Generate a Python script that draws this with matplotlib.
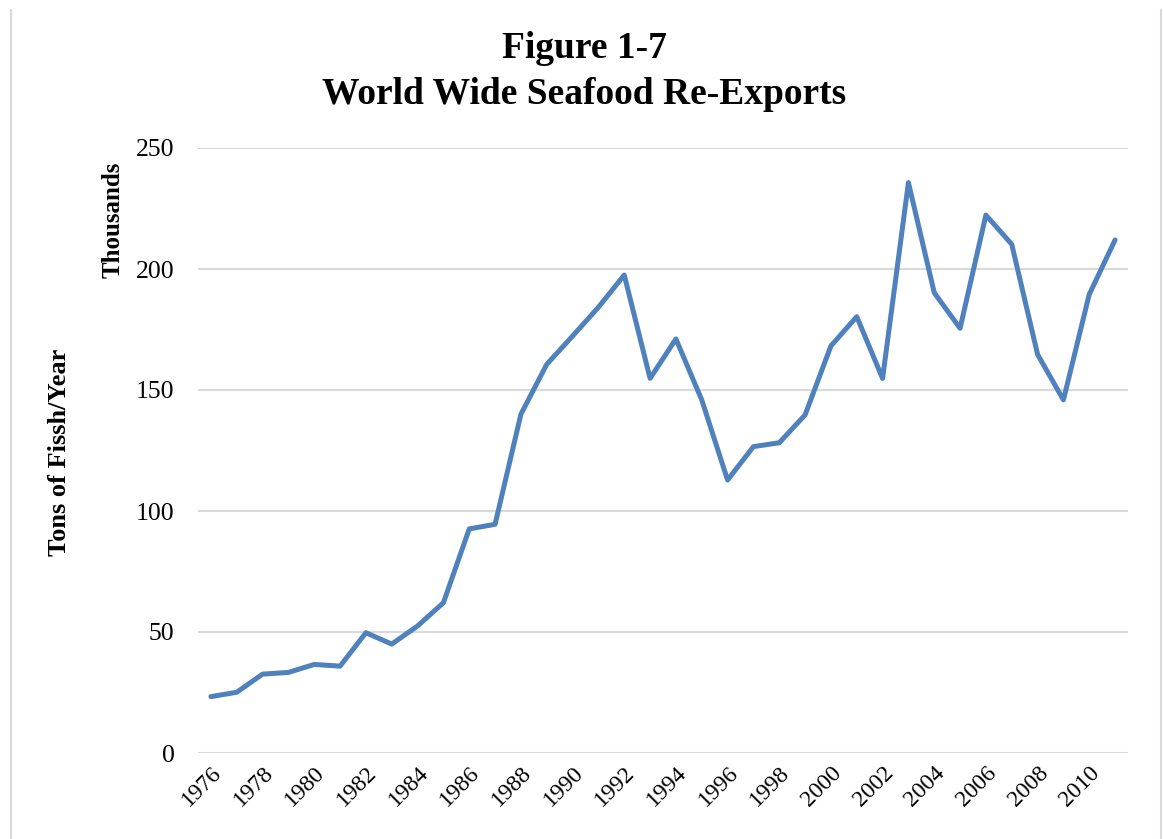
import matplotlib
matplotlib.use("Agg")
import matplotlib.pyplot as plt
from matplotlib.lines import Line2D

years = list(range(1976, 2012))
values = [23.3, 25.1, 32.6, 33.3, 36.6, 35.9, 49.7, 45.0, 52.5, 62.1,
          92.6, 94.5, 140.0, 160.6, 172.3, 184.2, 197.5, 154.8, 171.1, 145.9,
          112.8, 126.6, 128.2, 139.7, 168.2, 180.3, 154.8, 235.7, 190.2, 175.5,
          222.3, 210.2, 164.7, 145.9, 189.5, 212.0]
xtick_labels = [str(y) for y in range(1976, 2011, 2)]
yticks = [0, 50, 100, 150, 200, 250]

title_lines = ["Figure 1-7", "World Wide Seafood Re-Exports"]
ylabel = "Tons of Fissh/Year"
unit_label = "Thousands"

plt.rcParams['font.family'] = ['Liberation Serif', 'DejaVu Serif']

W, H = 1163, 839
fig = plt.figure(figsize=(W / 100, H / 100), dpi=100)
ax = fig.add_axes([198 / W, 1 - 753 / H, (1128 - 198) / W, (753 - 148) / H])

ax.plot(years, values, color='#4F81BD', linewidth=3.6, solid_joinstyle='round',
        solid_capstyle='round', zorder=3)

ax.set_xlim(1975.5, 2011.5)
ax.set_ylim(0, 250)
ax.set_yticks(yticks)
ax.set_yticklabels([str(v) for v in yticks])
ax.set_xticks(list(range(1976, 2011, 2)))
ax.set_xticklabels(xtick_labels, rotation=45, ha='right', rotation_mode='anchor')

ax.grid(axis='y', color='#D9D9D9', linewidth=1.5, zorder=0)
ax.grid(axis='x', visible=False)
for s in ax.spines.values():
    s.set_visible(False)
ax.tick_params(axis='both', length=0)
ax.tick_params(axis='y', pad=17, labelsize=18.5)
ax.tick_params(axis='x', pad=7, labelsize=17)

fig.text(584 / W, 1 - 49 / H, title_lines[0], ha='center', va='center',
         fontsize=27, fontweight='bold')
fig.text(584 / W, 1 - 94 / H, title_lines[1], ha='center', va='center',
         fontsize=27, fontweight='bold')

fig.text(59 / W, 1 - 452 / H, ylabel, rotation=90, ha='center', va='center',
         fontsize=19, fontweight='bold')
fig.text(113 / W, 1 - 220 / H, unit_label, rotation=90, ha='center', va='center',
         fontsize=18, fontweight='bold')

# light frame edges
fig.add_artist(Line2D([11 / W, 11 / W], [0, 1 - 10 / H], transform=fig.transFigure,
                      color='#D9D9D9', linewidth=1.5))
fig.add_artist(Line2D([1161 / W, 1161 / W], [0, 1 - 10 / H], transform=fig.transFigure,
                      color='#D9D9D9', linewidth=1.5))

fig.savefig("out.png", dpi=100)
